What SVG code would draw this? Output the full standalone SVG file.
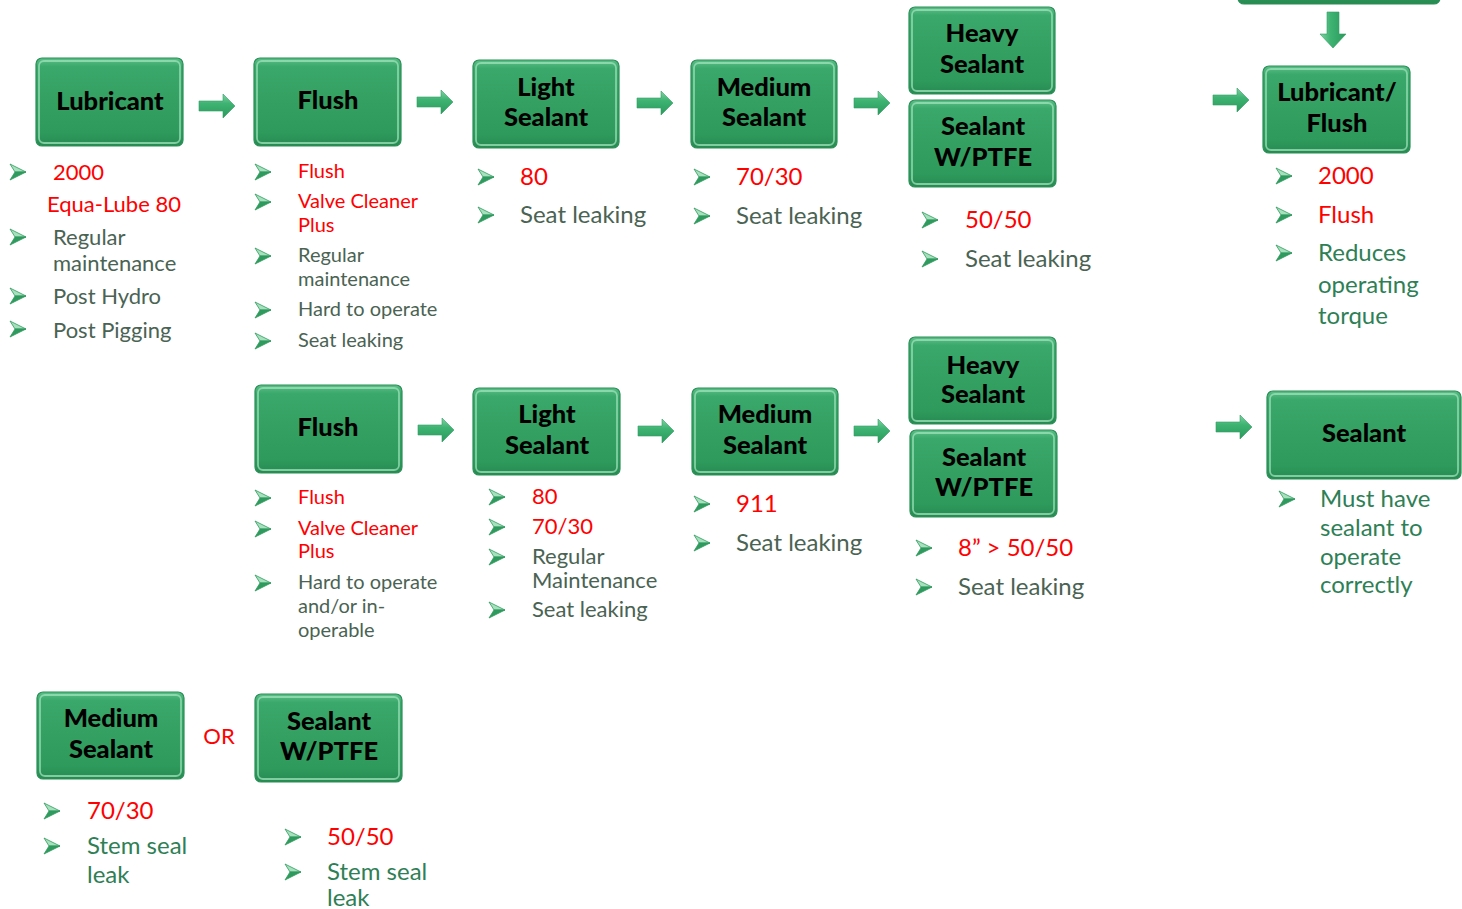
<svg xmlns="http://www.w3.org/2000/svg" xmlns:xlink="http://www.w3.org/1999/xlink" width="1462" height="909" viewBox="0 0 1462 909">
<defs>
<style>
.bx{fill:url(#gb);stroke:#2a9057;stroke-width:1.2}
.hl{fill:none;stroke:#9fe2bb;stroke-width:1.8;opacity:.75}
.bt{font-family:Lato,"Open Sans",sans-serif;font-weight:900;font-size:25.5px;fill:#000;text-anchor:middle}
.r{fill:#ff0000}
.g{fill:#4a6353}
.gr{fill:#2e7f56}
.t{font-family:Lato,"Open Sans",sans-serif}
.s19{font-size:20px}
.s22{font-size:22px}
.s24{font-size:24px}
.ar{fill:url(#ga);stroke:#2f9d62;stroke-width:.6}
</style>
<linearGradient id="gb" x1="0" y1="0" x2="0" y2="1">
<stop offset="0" stop-color="#5cbf88"/>
<stop offset="0.1" stop-color="#3aa86a"/>
<stop offset="0.85" stop-color="#2e9a5c"/>
<stop offset="1" stop-color="#278a51"/>
</linearGradient>
<linearGradient id="ga" x1="0" y1="0" x2="0" y2="1">
<stop offset="0" stop-color="#7fd3a2"/>
<stop offset="0.4" stop-color="#3eb372"/>
<stop offset="1" stop-color="#2a9a5c"/>
</linearGradient>
<linearGradient id="gad" x1="0" y1="0" x2="1" y2="0">
<stop offset="0" stop-color="#7fd3a2"/>
<stop offset="0.4" stop-color="#3eb372"/>
<stop offset="1" stop-color="#2a9a5c"/>
</linearGradient>
<g id="bl">
<polygon points="0,0 16,8 5,8" fill="#a6e0bd" stroke="#2f9a5d" stroke-width="0.8"/>
<polygon points="0,16 16,8 5,8" fill="#2f9a5d" stroke="#2f9a5d" stroke-width="0.8"/>
</g>
<g id="rar">
<polygon points="0,-5 24,-5 24,-12 36,0 24,12 24,5 0,5"/>
</g>
</defs>
<rect width="1462" height="909" fill="#ffffff"/>

<g id="connectors">
<use href="#rar" class="ar" x="199" y="106"/>
<use href="#rar" class="ar" x="417" y="102"/>
<use href="#rar" class="ar" x="637" y="103"/>
<use href="#rar" class="ar" x="854" y="103"/>
<use href="#rar" class="ar" x="1213" y="100"/>
<use href="#rar" class="ar" x="418" y="430"/>
<use href="#rar" class="ar" x="638" y="431"/>
<use href="#rar" class="ar" x="854" y="431"/>
<use href="#rar" class="ar" x="1216" y="427"/>
<polygon points="1327,12 1339,12 1339,34 1346,34 1333,48 1320,34 1327,34" fill="url(#gad)" stroke="#2f9d62" stroke-width="0.6"/>
</g>

<g id="n-top">
<rect class="bx" x="1238" y="-80" width="202" height="84" rx="6"/>
</g>

<g id="n-lubricant">
<rect class="bx" x="36" y="58" width="147" height="88" rx="6"/>
<rect class="hl" x="39" y="61" width="141" height="82" rx="5"/>
<text class="bt" x="110" y="110">Lubricant</text>
<use href="#bl" x="10" y="164"/>
<text class="t s22 r" x="53" y="180">2000</text>
<text class="t s22 r" x="47" y="212">Equa-Lube 80</text>
<use href="#bl" x="10" y="229"/>
<text class="t s22 g" x="53" y="245">Regular</text>
<text class="t s22 g" x="53" y="271">maintenance</text>
<use href="#bl" x="10" y="288"/>
<text class="t s22 g" x="53" y="304">Post Hydro</text>
<use href="#bl" x="10" y="321"/>
<text class="t s22 g" x="53" y="338">Post Pigging</text>
</g>

<g id="n-flush1">
<rect class="bx" x="254" y="58" width="147" height="88" rx="6"/>
<rect class="hl" x="257" y="61" width="141" height="82" rx="5"/>
<text class="bt" x="328" y="109">Flush</text>
<use href="#bl" x="255" y="164"/>
<text class="t s19 r" x="298" y="178">Flush</text>
<use href="#bl" x="255" y="194"/>
<text class="t s19 r" x="298" y="208">Valve Cleaner</text>
<text class="t s19 r" x="298" y="232">Plus</text>
<use href="#bl" x="255" y="248"/>
<text class="t s19 g" x="298" y="262">Regular</text>
<text class="t s19 g" x="298" y="286">maintenance</text>
<use href="#bl" x="255" y="302"/>
<text class="t s19 g" x="298" y="316">Hard to operate</text>
<use href="#bl" x="255" y="333"/>
<text class="t s19 g" x="298" y="347">Seat leaking</text>
</g>

<g id="n-light1">
<rect class="bx" x="473" y="60" width="146" height="88" rx="6"/>
<rect class="hl" x="476" y="63" width="140" height="82" rx="5"/>
<text class="bt" x="546" y="96">Light</text>
<text class="bt" x="546" y="126">Sealant</text>
<use href="#bl" x="478" y="169"/>
<text class="t s24 r" x="520" y="185">80</text>
<use href="#bl" x="478" y="207"/>
<text class="t s24 g" x="520" y="223">Seat leaking</text>
</g>

<g id="n-medium1">
<rect class="bx" x="691" y="60" width="146" height="88" rx="6"/>
<rect class="hl" x="694" y="63" width="140" height="82" rx="5"/>
<text class="bt" x="764" y="96">Medium</text>
<text class="bt" x="764" y="126">Sealant</text>
<use href="#bl" x="694" y="169"/>
<text class="t s24 r" x="736" y="185">70/30</text>
<use href="#bl" x="694" y="208"/>
<text class="t s24 g" x="736" y="224">Seat leaking</text>
</g>

<g id="n-heavy1">
<rect class="bx" x="909" y="7" width="146" height="87" rx="6"/>
<rect class="hl" x="912" y="10" width="140" height="81" rx="5"/>
<text class="bt" x="982" y="42">Heavy</text>
<text class="bt" x="982" y="73">Sealant</text>
</g>

<g id="n-ptfe1">
<rect class="bx" x="909" y="100" width="147" height="87" rx="6"/>
<rect class="hl" x="912" y="103" width="141" height="81" rx="5"/>
<text class="bt" x="983" y="135">Sealant</text>
<text class="bt" x="983" y="166">W/PTFE</text>
<use href="#bl" x="922" y="212"/>
<text class="t s24 r" x="965" y="228">50/50</text>
<use href="#bl" x="922" y="251"/>
<text class="t s24 g" x="965" y="267">Seat leaking</text>
</g>

<g id="n-lubflush">
<rect class="bx" x="1263" y="66" width="147" height="87" rx="6"/>
<rect class="hl" x="1266" y="69" width="141" height="81" rx="5"/>
<text class="bt" x="1337" y="101">Lubricant/</text>
<text class="bt" x="1337" y="132">Flush</text>
<use href="#bl" x="1276" y="168"/>
<text class="t s24 r" x="1318" y="184">2000</text>
<use href="#bl" x="1276" y="207"/>
<text class="t s24 r" x="1318" y="223">Flush</text>
<use href="#bl" x="1276" y="245"/>
<text class="t s24 gr" x="1318" y="261">Reduces</text>
<text class="t s24 gr" x="1318" y="293">operating</text>
<text class="t s24 gr" x="1318" y="324">torque</text>
</g>

<g id="n-flush2">
<rect class="bx" x="255" y="385" width="147" height="88" rx="6"/>
<rect class="hl" x="258" y="388" width="141" height="82" rx="5"/>
<text class="bt" x="328" y="436">Flush</text>
<use href="#bl" x="255" y="490"/>
<text class="t s19 r" x="298" y="504">Flush</text>
<use href="#bl" x="255" y="521"/>
<text class="t s19 r" x="298" y="535">Valve Cleaner</text>
<text class="t s19 r" x="298" y="558">Plus</text>
<use href="#bl" x="255" y="575"/>
<text class="t s19 g" x="298" y="589">Hard to operate</text>
<text class="t s19 g" x="298" y="613">and/or in-</text>
<text class="t s19 g" x="298" y="637">operable</text>
</g>

<g id="n-light2">
<rect class="bx" x="473" y="388" width="147" height="87" rx="6"/>
<rect class="hl" x="476" y="391" width="141" height="81" rx="5"/>
<text class="bt" x="547" y="423">Light</text>
<text class="bt" x="547" y="454">Sealant</text>
<use href="#bl" x="489" y="489"/>
<text class="t s22 r" x="532" y="504">80</text>
<use href="#bl" x="489" y="519"/>
<text class="t s22 r" x="532" y="534">70/30</text>
<use href="#bl" x="489" y="549"/>
<text class="t s22 g" x="532" y="564">Regular</text>
<text class="t s22 g" x="532" y="588">Maintenance</text>
<use href="#bl" x="489" y="602"/>
<text class="t s22 g" x="532" y="617">Seat leaking</text>
</g>

<g id="n-medium2">
<rect class="bx" x="692" y="388" width="146" height="87" rx="6"/>
<rect class="hl" x="695" y="391" width="140" height="81" rx="5"/>
<text class="bt" x="765" y="423">Medium</text>
<text class="bt" x="765" y="454">Sealant</text>
<use href="#bl" x="694" y="496"/>
<text class="t s24 r" x="736" y="512">911</text>
<use href="#bl" x="694" y="535"/>
<text class="t s24 g" x="736" y="551">Seat leaking</text>
</g>

<g id="n-heavy2">
<rect class="bx" x="909" y="337" width="147" height="87" rx="6"/>
<rect class="hl" x="912" y="340" width="141" height="81" rx="5"/>
<text class="bt" x="983" y="374">Heavy</text>
<text class="bt" x="983" y="403">Sealant</text>
</g>

<g id="n-ptfe2">
<rect class="bx" x="910" y="430" width="147" height="87" rx="6"/>
<rect class="hl" x="913" y="433" width="141" height="81" rx="5"/>
<text class="bt" x="984" y="466">Sealant</text>
<text class="bt" x="984" y="496">W/PTFE</text>
<use href="#bl" x="916" y="540"/>
<text class="t s24 r" x="958" y="556">8” &gt; 50/50</text>
<use href="#bl" x="916" y="579"/>
<text class="t s24 g" x="958" y="595">Seat leaking</text>
</g>

<g id="n-sealant">
<rect class="bx" x="1267" y="391" width="194" height="88" rx="6"/>
<rect class="hl" x="1270" y="394" width="188" height="82" rx="5"/>
<text class="bt" x="1364" y="442">Sealant</text>
<use href="#bl" x="1279" y="491"/>
<text class="t s24 gr" x="1320" y="507">Must have</text>
<text class="t s24 gr" x="1320" y="536">sealant to</text>
<text class="t s24 gr" x="1320" y="565">operate</text>
<text class="t s24 gr" x="1320" y="593">correctly</text>
</g>

<g id="n-medium3">
<rect class="bx" x="37" y="692" width="147" height="87" rx="6"/>
<rect class="hl" x="40" y="695" width="141" height="81" rx="5"/>
<text class="bt" x="111" y="727">Medium</text>
<text class="bt" x="111" y="758">Sealant</text>
<use href="#bl" x="44" y="803"/>
<text class="t s24 r" x="87" y="819">70/30</text>
<use href="#bl" x="44" y="838"/>
<text class="t s24 gr" x="87" y="854">Stem seal</text>
<text class="t s24 gr" x="87" y="883">leak</text>
</g>

<g id="or-label">
<text class="t s22 r" x="219" y="744" text-anchor="middle">OR</text>
</g>

<g id="n-ptfe3">
<rect class="bx" x="255" y="694" width="147" height="88" rx="6"/>
<rect class="hl" x="258" y="697" width="141" height="82" rx="5"/>
<text class="bt" x="329" y="730">Sealant</text>
<text class="bt" x="329" y="760">W/PTFE</text>
<use href="#bl" x="285" y="829"/>
<text class="t s24 r" x="327" y="845">50/50</text>
<use href="#bl" x="285" y="864"/>
<text class="t s24 gr" x="327" y="880">Stem seal</text>
<text class="t s24 gr" x="327" y="906">leak</text>
</g>
</svg>
